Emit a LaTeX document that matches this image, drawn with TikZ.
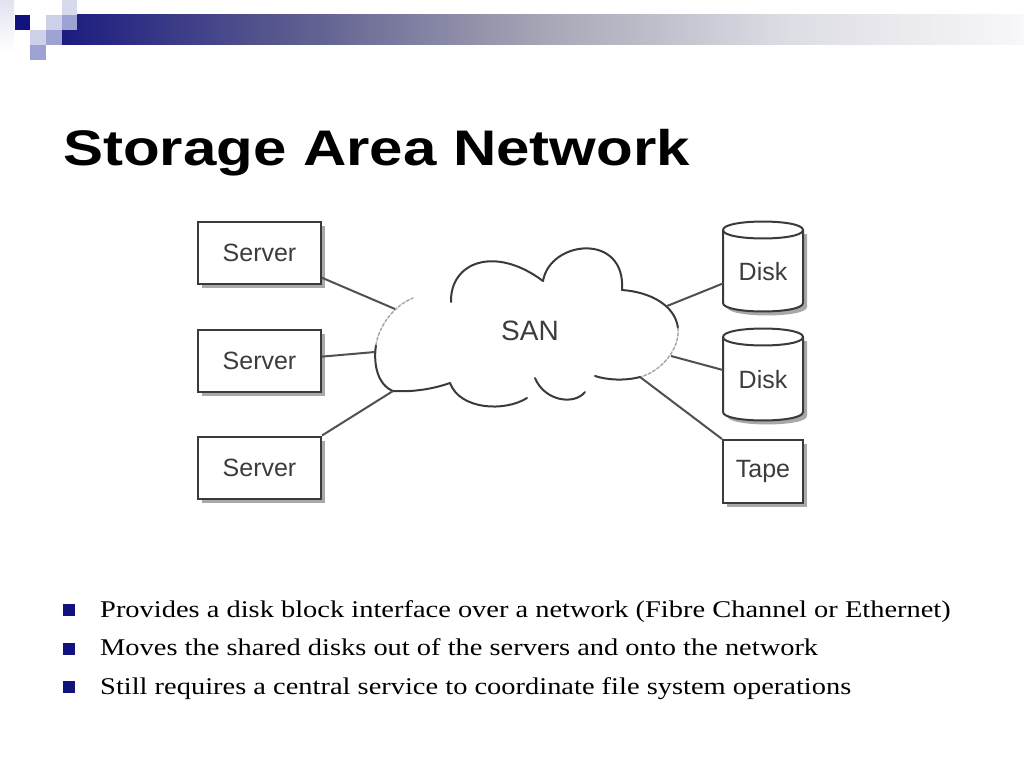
\documentclass[tikz,border=0pt]{standalone}
\usepackage{fontspec}
\usepackage{graphicx}
\setmainfont{Liberation Serif}
\newfontfamily\arialf{Liberation Sans}
\usetikzlibrary{shadows}
\definecolor{navy}{HTML}{12127E}
\definecolor{barA}{HTML}{1C1C80}
\definecolor{barB}{HTML}{5E5E90}
\definecolor{barC}{HTML}{A6A6B6}
\definecolor{barD}{HTML}{DCDCE4}
\definecolor{barE}{HTML}{F8F8FA}
\definecolor{sqL}{HTML}{CDD0E9}
\definecolor{sqM}{HTML}{9EA2D2}
\definecolor{sqF}{HTML}{E2E3F2}
\definecolor{ink}{HTML}{3A3A3A}
\definecolor{txt}{HTML}{3C3C3C}
\definecolor{wire}{HTML}{505050}
\definecolor{faint}{HTML}{A8A8A8}
\definecolor{shad}{HTML}{A8A8A8}
\pgfdeclarehorizontalshading{barshade}{100bp}{color(0bp)=(barA); color(25bp)=(barA); color(37.5bp)=(barB); color(50bp)=(barC); color(62.5bp)=(barD); color(75bp)=(barE); color(100bp)=(barE)}
\tikzset{
  box/.style={draw=ink, line width=2pt, fill=white, minimum width=123pt, minimum height=62pt, inner sep=0pt,
    font=\arialf\fontsize{25}{30}\selectfont, text=txt,
    general shadow={shadow xshift=4pt, shadow yshift=-4pt, fill=shad}},
  tapebox/.style={box, minimum width=80pt, minimum height=63pt},
  disklabel/.style={minimum width=80pt, minimum height=76pt, inner sep=0pt,
    font=\arialf\fontsize{25}{30}\selectfont, text=txt},
  wireline/.style={draw=wire, line width=2pt},
  cloudline/.style={draw=ink, line width=2pt, line cap=round},
  cloudfaint/.style={draw=faint, line width=1.5pt, line cap=round, dash pattern=on 3pt off 2pt},
  bulletsq/.style={fill=navy, minimum size=12pt, inner sep=0pt},
  bullettext/.style={anchor=base west, inner sep=0pt, font=\fontsize{24}{29}\selectfont},
}
\newcommand{\bline}[1]{\scalebox{1.185}[1]{#1}}
\begin{document}
\begin{tikzpicture}[x=1pt,y=-1pt]
\useasboundingbox (0,0) rectangle (1024,768);
% header decoration
\shade[top color=sqF, bottom color=white] (0,0) rectangle (14,52);
\shade[shading=barshade] (62,15) rectangle (1024,45);
\fill[navy] (15,15) rectangle (30,30);
\fill[sqL] (46,15) rectangle (62,30);
\fill[sqL!80!white] (62,0) rectangle (77,15);
\fill[sqM] (62,15) rectangle (77,30);
\fill[sqL] (30,30) rectangle (46,45);
\fill[sqM] (46,30) rectangle (62,45);
\fill[sqM] (30,45) rectangle (46,60);
% title
\node[anchor=base west, inner sep=0pt] (title) at (63,165)
  {\scalebox{1.2}[1]{\arialf\bfseries\fontsize{50}{60}\selectfont Storage Area Network}};
% cloud
\draw[cloudline] (451,302) .. controls (450,262) and (495,245) .. (543,281);
\draw[cloudline] (543,281) .. controls (550,240) and (626,232) .. (622,290);
\draw[cloudline] (622,290) .. controls (650,292) and (675,305) .. (678,328);
\draw[cloudfaint] (678,328) .. controls (680,350) and (660,372) .. (640,377);
\draw[cloudline] (640,377) .. controls (625,381) and (607,380) .. (595,376);
\draw[cloudline] (585,392) .. controls (575,405) and (545,402) .. (535,378);
\draw[cloudline] (527,398) .. controls (505,412) and (460,410) .. (450,383);
\draw[cloudline] (450,383) .. controls (430,390) and (410,392) .. (393,391);
\draw[cloudline] (393,391) .. controls (378,385) and (373,365) .. (376,345);
\draw[cloudfaint] (376,345) .. controls (379,325) and (395,305) .. (413,298);
\node[font=\arialf\fontsize{28}{32}\selectfont, text=txt, inner sep=0pt] (san) at (530,331) {SAN};
\coordinate (cs1) at (395,309);
\coordinate (cs2) at (375,352);
\coordinate (cs3) at (393,391);
\coordinate (cd1) at (667,306);
\coordinate (cd2) at (671,356);
\coordinate (ct) at (640,377);
% servers
\node[box] (s1) at (259.5,252.5) {Server};
\node[box] (s2) at (259.5,361) {Server};
\node[box] (s3) at (259.5,467.5) {Server};
% disks
\foreach \yt/\yb in {230/303, 337/412}{
  \fill[shad] (727,\yt+4) -- (727,\yb+4) .. controls (727,\yb+15.3) and (807,\yb+15.3) .. (807,\yb+4) -- (807,\yt+4) -- cycle;
  \filldraw[fill=white, draw=ink, line width=2pt] (723,\yt) -- (723,\yb) .. controls (723,\yb+11.3) and (803,\yb+11.3) .. (803,\yb) -- (803,\yt) .. controls (803,\yt-11.3) and (723,\yt-11.3) .. (723,\yt) -- cycle;
  \draw[ink, line width=2pt] (723,\yt) .. controls (723,\yt+11.3) and (803,\yt+11.3) .. (803,\yt);
}
\node[disklabel] (d1) at (763,272) {Disk};
\node[disklabel] (d2) at (763,380) {Disk};
\node[tapebox] (tape) at (763,471.5) {Tape};
% connectors
\draw[wireline] (s1.-22.5) -- (cs1);
\draw[wireline] (s2.4.6) -- (cs2);
\draw[wireline] (s3.north east) -- (cs3);
\draw[wireline] (d1.-164.6) -- (cd1);
\draw[wireline] (d2.166) -- (cd2);
\draw[wireline] (tape.north west) -- (ct);
% bullets
\node[bulletsq] (b1) at (69,610) {};
\node[bulletsq] (b2) at (69,648.5) {};
\node[bulletsq] (b3) at (69,687) {};
\node[bullettext] (t1) at (100,617.5) {\bline{Provides a disk block interface over a network (Fibre Channel or Ethernet)}};
\node[bullettext] (t2) at (100,655.8) {\bline{Moves the shared disks out of the servers and onto the network}};
\node[bullettext] (t3) at (100,694) {\bline{Still requires a central service to coordinate file system operations}};
\end{tikzpicture}
\end{document}
